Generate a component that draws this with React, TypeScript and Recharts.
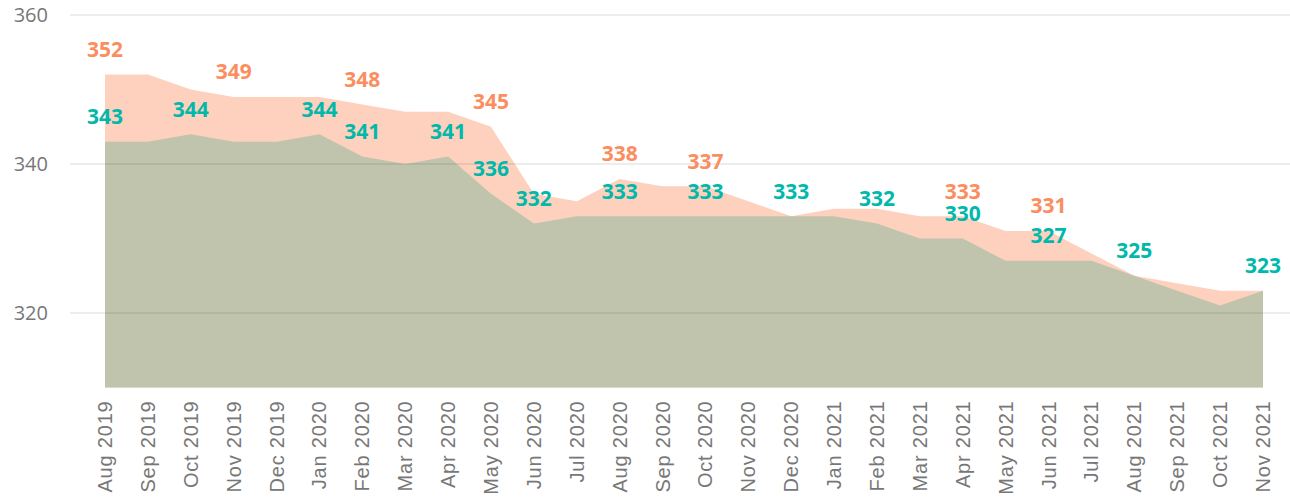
import React from 'react';
import { AreaChart, Area, XAxis, YAxis, ReferenceLine } from 'recharts';

const months = [
  'Aug 2019', 'Sep 2019', 'Oct 2019', 'Nov 2019', 'Dec 2019', 'Jan 2020', 'Feb 2020',
  'Mar 2020', 'Apr 2020', 'May 2020', 'Jun 2020', 'Jul 2020', 'Aug 2020', 'Sep 2020',
  'Oct 2020', 'Nov 2020', 'Dec 2020', 'Jan 2021', 'Feb 2021', 'Mar 2021', 'Apr 2021',
  'May 2021', 'Jun 2021', 'Jul 2021', 'Aug 2021', 'Sep 2021', 'Oct 2021', 'Nov 2021',
];

const upperValues = [
  352, 352, 350, 349, 349, 349, 348, 347, 347, 345, 336, 335, 338, 337,
  337, 335, 333, 334, 334, 333, 333, 331, 331, 328, 325, 324, 323, 323,
];

const lowerValues = [
  343, 343, 344, 343, 343, 344, 341, 340, 341, 336, 332, 333, 333, 333,
  333, 333, 333, 333, 332, 330, 330, 327, 327, 327, 325, 323, 321, 323,
];

const upperLabelIdx = [0, 3, 6, 9, 12, 14, 20, 22];
const lowerLabelIdx = [0, 2, 5, 6, 8, 9, 10, 12, 14, 16, 18, 20, 22, 24, 27];

const yTicks = [320, 340, 360];
const yDomain = [310, 360];

const ORANGE = '#FB8E60';
const TEAL = '#01B8AA';
const ORANGE_FILL = '#FDD1BE';
const GREEN_FILL = '#C0C4AC';

const data = months.map((m, i) => ({ month: m, upper: upperValues[i], lower: lowerValues[i] }));

const makeLabel = (idx: number[], color: string) => (props: any) => {
  const { x, y, index, value } = props;
  if (!idx.includes(index)) return <g />;
  return (
    <text
      x={x}
      y={y - 25}
      dy="0.35em"
      textAnchor="middle"
      fill={color}
      style={{ fontFamily: '"Open Sans", sans-serif', fontWeight: 700, fontSize: 21 }}
    >
      {value}
    </text>
  );
};

const XTick = (props: any) => {
  const { x, y, payload } = props;
  return (
    <g transform={`translate(${x},${y})`}>
      <text
        transform="rotate(-90)"
        textAnchor="end"
        dy="0.35em"
        fill="#777"
        style={{ fontFamily: '"Liberation Sans", Arial, sans-serif', fontSize: 20, letterSpacing: 0.8 }}
      >
        {payload.value}
      </text>
    </g>
  );
};

export default function App() {
  return (
    <div style={{ position: 'absolute', left: 0, top: 0, background: '#fff' }}>
      <AreaChart width={1290} height={500} data={data} margin={{ top: 15, right: 0, left: 0, bottom: 0 }}>
        <XAxis
          dataKey="month"
          interval={0}
          height={112.5}
          axisLine={false}
          tickLine={false}
          tickSize={0}
          tickMargin={13}
          padding={{ left: 35, right: 27 }}
          tick={<XTick />}
        />
        <YAxis
          domain={yDomain}
          ticks={yTicks}
          width={70}
          axisLine={false}
          tickLine={false}
          tickSize={0}
          tickMargin={22}
          tick={{ fill: '#777', fontSize: 20, fontFamily: '"Open Sans", sans-serif' }}
        />
        <Area
          dataKey="upper"
          type="linear"
          stroke="none"
          fill={ORANGE_FILL}
          fillOpacity={1}
          isAnimationActive={false}
          label={makeLabel(upperLabelIdx, ORANGE)}
        />
        <Area
          dataKey="lower"
          type="linear"
          stroke="none"
          fill={GREEN_FILL}
          fillOpacity={1}
          isAnimationActive={false}
          label={makeLabel(lowerLabelIdx, TEAL)}
        />
        {yTicks.map((t) => (
          <ReferenceLine key={t} y={t} stroke="rgba(0,0,0,0.07)" strokeWidth={2} />
        ))}
      </AreaChart>
    </div>
  );
}
